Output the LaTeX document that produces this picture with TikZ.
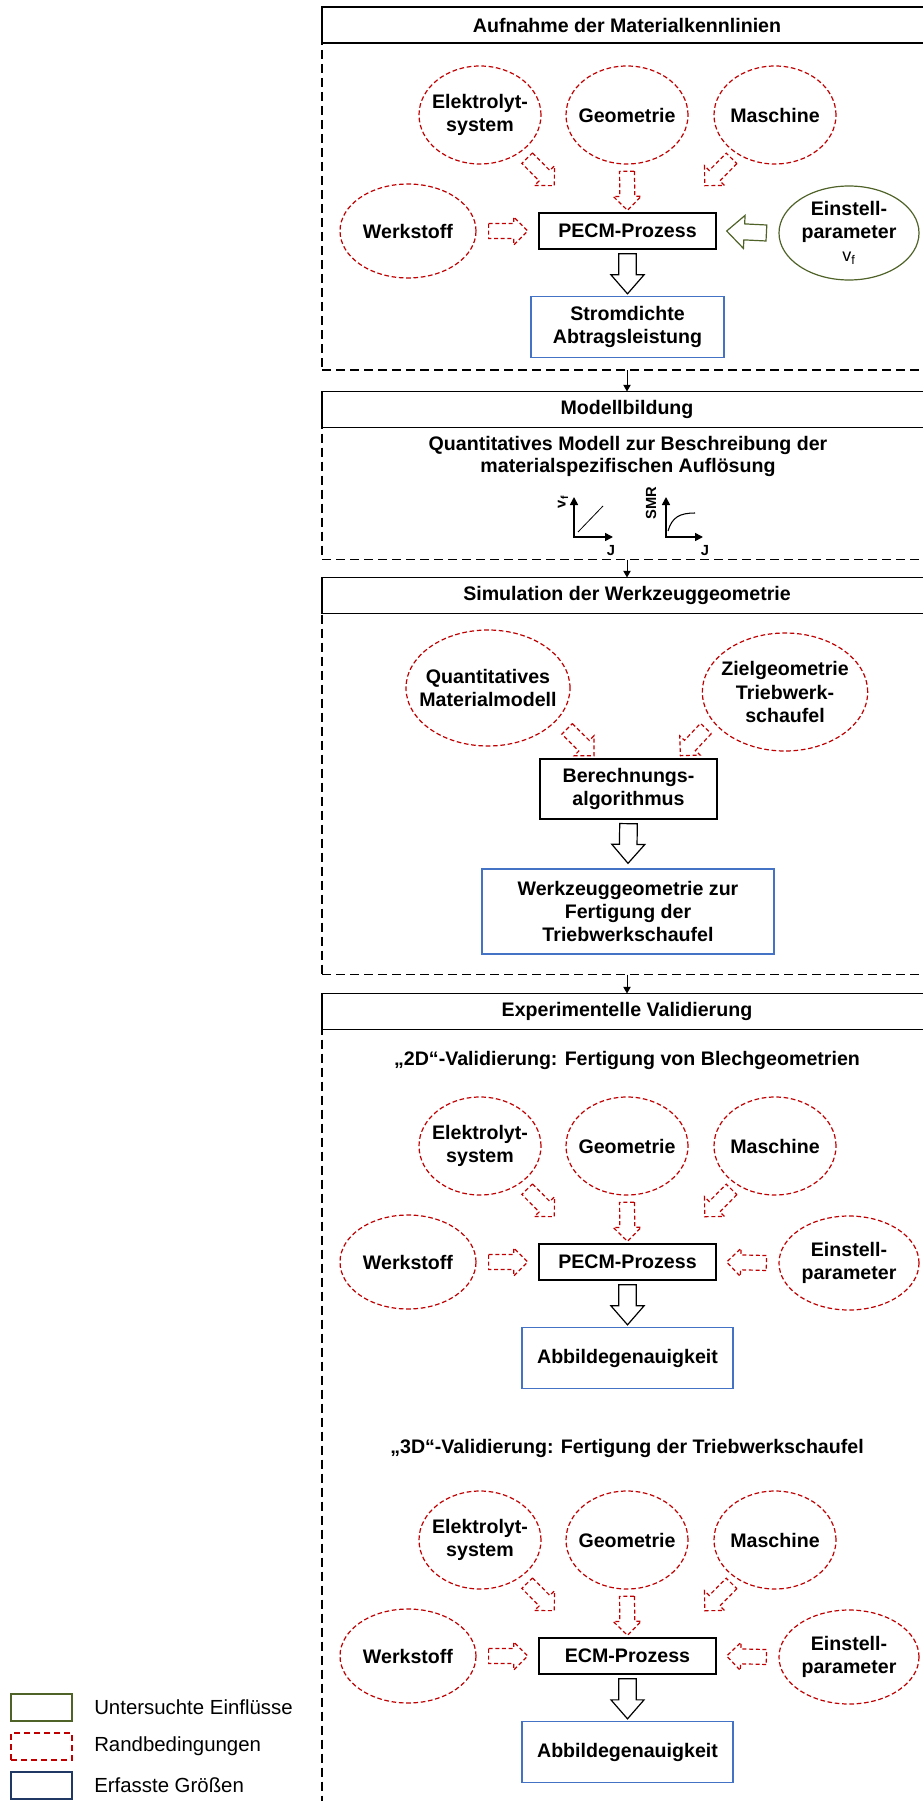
\documentclass[tikz,border=0pt]{standalone}
\usepackage{fontspec}
\setmainfont{Liberation Sans}
\usetikzlibrary{arrows.meta,calc,positioning,shapes.geometric}

\definecolor{rot}{RGB}{192,0,0}
\definecolor{gruen}{RGB}{79,98,40}
\definecolor{blau}{RGB}{68,114,196}
\definecolor{dunkelblau}{RGB}{31,56,100}

\newcommand{\schrift}{\fontsize{14.7pt}{17.5pt}\selectfont\bfseries}
\newcommand{\kleinschrift}{\fontsize{11pt}{13pt}\selectfont\bfseries}

\tikzset{
  pfeil/.style n args={3}{to path={
    let \p1=(\tikztostart), \p2=(\tikztotarget),
        \n1={atan2(\y2-\y1,\x2-\x1)}, \n2={veclen(\x2-\x1,\y2-\y1)} in
    ([shift={(\p1)},rotate=\n1]0pt,#1)
    -- ([shift={(\p1)},rotate=\n1]{\n2-#3},#1)
    -- ([shift={(\p1)},rotate=\n1]{\n2-#3},#2)
    -- ([shift={(\p1)},rotate=\n1]\n2,0pt)
    -- ([shift={(\p1)},rotate=\n1]{\n2-#3},-#2)
    -- ([shift={(\p1)},rotate=\n1]{\n2-#3},-#1)
    -- ([shift={(\p1)},rotate=\n1]0pt,-#1) -- cycle}},
}

\begin{document}
\begin{tikzpicture}[x=0.75pt,y=-0.75pt,line join=miter,
  titel/.style={draw, line width=1.4pt, fill=white, minimum width=457.5pt, minimum height=27pt, outer sep=0pt, font=\schrift},
  rahmen/.style={draw, line width=1pt, dash pattern=on 7pt off 3.5pt, minimum width=457.5pt, anchor=north, outer sep=0pt},
  rotell/.style={ellipse, draw=rot, line width=0.9pt, dash pattern=on 3.5pt off 2pt, inner sep=-18pt, align=center, font=\schrift},
  oben/.style={rotell, minimum width=91.5pt, minimum height=73.5pt},
  seite/.style={rotell, minimum width=102pt, minimum height=70.5pt},
  prozess/.style={draw, line width=1pt, minimum width=132.75pt, minimum height=27pt, align=center, font=\schrift},
  ergebnis/.style={draw=blau, line width=1pt, minimum height=45.75pt, align=center, font=\schrift},
  verbinder/.style={line width=0.75pt, -{Triangle[length=5pt,width=5.5pt]}},
  achse/.style={line width=1.2pt, {Triangle[length=6pt,width=6pt]}-{Triangle[length=6pt,width=6pt]}},
  grosspfeil/.style={draw, line width=0.9pt, fill=white, pfeil={6.6pt}{12.4pt}{14.25pt}},
  randpfeil/.style={draw=rot, line width=0.9pt, dash pattern=on 3pt off 2pt, pfeil={5.6pt}{10.5pt}{10.5pt}},
  gruenpfeil/.style={draw=gruen, line width=0.9pt, pfeil={6pt}{12.4pt}{13.2pt}},
  legbox/.style={minimum width=45.75pt, minimum height=20.25pt, line width=1.5pt},
  legtext/.style={right=15.75pt of #1, inner sep=0pt, font=\fontsize{15.3pt}{18pt}\selectfont}]
	\useasboundingbox (0,0) rectangle (923,1801);
	\clip (0,0) rectangle (923,1801);
	% Rahmen
	\node[titel] (t1) at (627,25) {Aufnahme der Materialkennlinien};
	\node[rahmen, minimum height=245.25pt] (f1) at (t1.south) {};
	\node[titel] (t2) at (627,409.5) {Modellbildung};
	\node[rahmen, minimum height=99pt] (f2) at (t2.south) {};
	\node[titel] (t3) at (627,595.5) {Simulation der Werkzeuggeometrie};
	\node[rahmen, minimum height=270.75pt] (f3) at (t3.south) {};
	\node[titel] (t4) at (627,1011.5) {Experimentelle Validierung};
	\node[rahmen, minimum height=600pt] (f4) at (t4.south) {};
	\draw[verbinder] (f1.south) -- (t2.north);
	\draw[verbinder] (f2.south) -- (t3.north);
	\draw[verbinder] (f3.south) -- (t4.north);
	% Prozesse
	\foreach \s/\y/\proz/\erg/\eb in {a/231/PECM-Prozess/{Stromdichte\\Abtragsleistung}/144.75pt,
	    d/1262/PECM-Prozess/Abbildegenauigkeit/158.25pt, e/1656/ECM-Prozess/Abbildegenauigkeit/158.25pt} {
		\node[oben] (el\s) at (480,{\y-116}) {Elektrolyt-\\system};
		\node[oben] (ge\s) at (627,{\y-116}) {Geometrie};
		\node[oben] (ma\s) at (775,{\y-116}) {Maschine};
		\node[seite] (we\s) at (408,\y) {Werkstoff};
		\node[prozess] (p\s) at (627.5,\y) {\proz};
		\node[ergebnis, minimum width=\eb] (r\s) at (627.5,{\y+96}) {\erg};
		\draw[randpfeil] ([shift={(6.4pt,-3.4pt)}]el\s.-45) to ([shift={(12pt,20pt)}]p\s.north west);
		\draw[randpfeil] ([yshift=-5pt]ge\s.south) to ([yshift=1.5pt]p\s.north);
		\draw[randpfeil] ([shift={(-3.6pt,-3.6pt)}]ma\s.-135) to ([shift={(-9pt,20pt)}]p\s.north east);
		\draw[randpfeil] ([xshift=9pt]we\s.east) to ([xshift=-8pt]p\s.west);
		\draw[grosspfeil] ([yshift=-3pt]p\s.south) to ([yshift=1.5pt]r\s.north);
	}
	\node[seite, draw=gruen, solid, minimum width=105pt] (epa) at (849,233)
	  {Einstell-\\parameter\\{\mdseries\fontsize{13.5pt}{16pt}\selectfont v\textsubscript{f}}};
	\node[seite, minimum width=105pt] (epd) at (849,1263) {Einstell-\\parameter};
	\node[seite, minimum width=105pt] (epe) at (849,1657) {Einstell-\\parameter};
	\draw[gruenpfeil] ([xshift=-9pt]epa.west) to ([xshift=7.5pt]pa.east);
	\draw[randpfeil] ([xshift=-9pt]epd.west) to ([xshift=7.5pt]pd.east);
	\draw[randpfeil] ([xshift=-9pt]epe.west) to ([xshift=7.5pt]pe.east);
	% Modell
	\node[align=center, font=\fontsize{14.7pt}{16.5pt}\selectfont\bfseries] (mb) at (628,456)
	  {Quantitatives Modell zur Beschreibung der\\materialspezifischen Auflösung};
	\path (574,537) coordinate (o1)
	  ++ (0,-40) coordinate (y1)
	  ++ (39,40) coordinate (x1)
	  (666,537) coordinate (o2)
	  ++ (0,-40) coordinate (y2)
	  ++ (37,40) coordinate (x2);
	\draw[achse] (y1) -- (o1) -- (x1);
	\draw[achse] (y2) -- (o2) -- (x2);
	\draw[line width=0.6pt] ($(o1)+(4,-5)$) -- ($(o1)+(29,-31)$);
	\draw[line width=0.8pt] ($(o2)+(2,-6)$) .. controls ($(o2)+(6,-20)$) and ($(o2)+(14,-24)$) .. ($(o2)+(29,-24)$);
	\node[rotate=90, font=\kleinschrift] (lv) at (563,502) {v\textsubscript{f}};
	\node[font=\kleinschrift] (lj1) at (611,551) {J};
	\node[rotate=90, font=\kleinschrift] (ls) at (651,503) {SMR};
	\node[font=\kleinschrift] (lj2) at (705,551) {J};
	% Werkzeug
	\node[rotell, minimum width=123pt, minimum height=87pt] (qm) at (488,688) {Quantitatives\\Materialmodell};
	\node[rotell, minimum width=124pt, minimum height=88.5pt] (zg) at (785,692) {Zielgeometrie\\Triebwerk-\\schaufel};
	\node[prozess, minimum height=45pt] (ba) at (628.5,789) {Berechnungs-\\algorithmus};
	\node[ergebnis, minimum width=219pt, minimum height=63.75pt] (wz) at (628,911.5)
	  {Werkzeuggeometrie zur\\Fertigung der\\Triebwerkschaufel};
	\draw[randpfeil] ([shift={(9pt,-5pt)}]qm.-27) to ([shift={(41pt,2pt)}]ba.north west);
	\draw[randpfeil] ([shift={(-7pt,-3pt)}]zg.-155) to ([shift={(-28pt,2pt)}]ba.north east);
	\draw[grosspfeil] ([yshift=-3pt]ba.south) to ([yshift=3.75pt]wz.north);
	% Validierung
	\node[font=\schrift] (v2) at (627,1060) {„2D“-Validierung: Fertigung von Blechgeometrien};
	\node[font=\schrift] (v3) at (627,1448) {„3D“-Validierung: Fertigung der Triebwerkschaufel};
	% Legende
	\node[legbox, draw=gruen] (lg1) at (41.5,1707.5) {};
	\node[legbox, draw=rot, dash pattern=on 4.5pt off 3pt] (lg2) at (41.5,1746.5) {};
	\node[legbox, draw=dunkelblau] (lg3) at (41.5,1785.5) {};
	\node[legtext=lg1] (lt1) {Untersuchte Einflüsse};
	\node[legtext=lg2] (lt2) {Randbedingungen};
	\node[legtext=lg3] (lt3) {Erfasste Größen};
\end{tikzpicture}
\end{document}
